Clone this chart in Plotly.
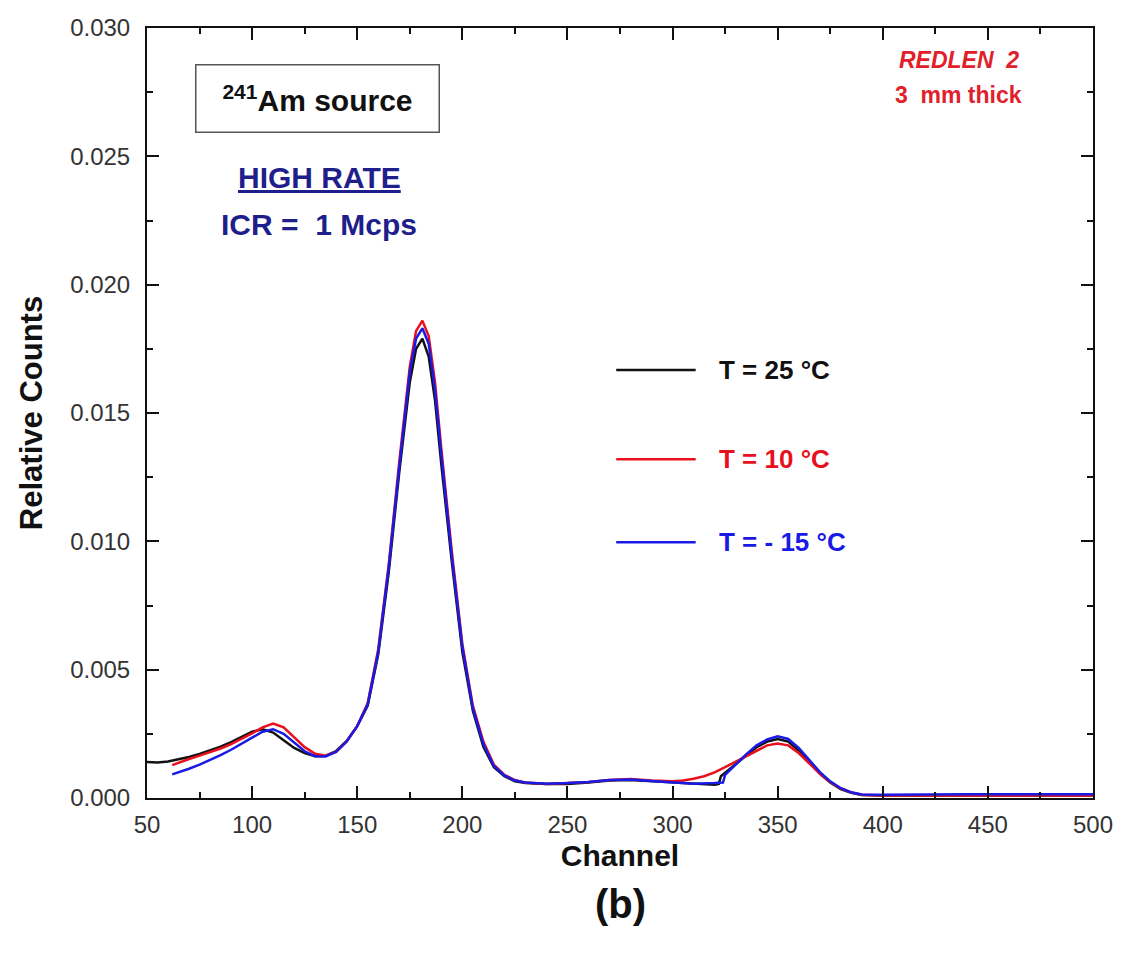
import plotly.graph_objects as go

# ---------------- data ----------------
ch_25 = [50, 55, 60, 65, 70, 75, 80, 85, 90, 95, 100, 105, 110, 115, 120, 125, 130, 135, 140, 145,
         150, 155, 160, 165, 170, 175, 178, 181, 184, 187, 190, 195, 200, 205, 210, 215, 220, 225, 230,
         240, 250, 260, 270, 280, 290, 300, 310, 315, 320, 322, 323, 325, 330, 335, 340, 345, 350, 355,
         360, 365, 370, 375, 380, 385, 390, 400, 420, 440, 460, 480, 500]
counts_25 = [0.00140, 0.00138, 0.00142, 0.00150, 0.00160, 0.00172, 0.00185, 0.00200, 0.00218, 0.00238,
             0.00258, 0.00268, 0.00255, 0.00225, 0.00195, 0.00175, 0.00163, 0.00165, 0.00183, 0.00222,
             0.00280, 0.00360, 0.00560, 0.00880, 0.01270, 0.01620, 0.01750, 0.01790, 0.01720, 0.01550,
             0.01300, 0.00920, 0.00570, 0.00340, 0.00200, 0.00120, 0.00085, 0.00065, 0.00058,
             0.00055, 0.00055, 0.00060, 0.00068, 0.00070, 0.00065, 0.00060, 0.00055, 0.00052, 0.00052,
             0.00055, 0.00085, 0.00098, 0.00130, 0.00165, 0.00198, 0.00220, 0.00230, 0.00220,
             0.00185, 0.00140, 0.00095, 0.00060, 0.00035, 0.00020, 0.00012, 0.00010, 0.00010, 0.00010,
             0.00010, 0.00010, 0.00010]

ch_10 = [62, 65, 70, 75, 80, 85, 90, 95, 100, 105, 110, 115, 120, 125, 130, 135, 140, 145,
         150, 155, 160, 165, 170, 175, 178, 181, 184, 187, 190, 195, 200, 205, 210, 215, 220, 225, 230,
         240, 250, 260, 270, 280, 290, 300, 305, 310, 315, 320, 325, 330, 335, 340, 345, 350, 355,
         360, 365, 370, 375, 380, 385, 390, 400, 420, 440, 460, 480, 500]
counts_10 = [0.00128, 0.00138, 0.00152, 0.00165, 0.00178, 0.00193, 0.00210, 0.00230, 0.00252, 0.00275,
             0.00290, 0.00275, 0.00238, 0.00198, 0.00172, 0.00165, 0.00180, 0.00220,
             0.00280, 0.00370, 0.00580, 0.00910, 0.01310, 0.01680, 0.01820, 0.01860, 0.01800, 0.01620,
             0.01360, 0.00960, 0.00600, 0.00360, 0.00220, 0.00130, 0.00090, 0.00070, 0.00060,
             0.00055, 0.00058, 0.00062, 0.00070, 0.00074, 0.00068, 0.00065, 0.00068, 0.00075, 0.00085,
             0.00100, 0.00120, 0.00142, 0.00163, 0.00185, 0.00205, 0.00212, 0.00205,
             0.00175, 0.00135, 0.00095, 0.00062, 0.00038, 0.00022, 0.00013, 0.00010, 0.00010, 0.00010,
             0.00010, 0.00010, 0.00010]

ch_m15 = [62, 65, 70, 75, 80, 85, 90, 95, 100, 105, 110, 115, 120, 125, 130, 135, 140, 145,
          150, 155, 160, 165, 170, 175, 178, 181, 184, 187, 190, 195, 200, 205, 210, 215, 220, 225, 230,
          240, 250, 260, 270, 280, 290, 300, 310, 320, 324, 325, 330, 335, 340, 345, 350, 355,
          360, 365, 370, 375, 380, 385, 390, 400, 420, 440, 460, 480, 500]
counts_m15 = [0.00092, 0.00100, 0.00114, 0.00130, 0.00148, 0.00167, 0.00188, 0.00210, 0.00235, 0.00258,
              0.00268, 0.00250, 0.00215, 0.00182, 0.00163, 0.00162, 0.00180, 0.00220,
              0.00280, 0.00365, 0.00570, 0.00900, 0.01290, 0.01660, 0.01790, 0.01830, 0.01770, 0.01590,
              0.01340, 0.00940, 0.00590, 0.00350, 0.00210, 0.00125, 0.00088, 0.00068, 0.00060,
              0.00056, 0.00058, 0.00062, 0.00070, 0.00072, 0.00066, 0.00060, 0.00056, 0.00058,
              0.00060, 0.00090, 0.00130, 0.00170, 0.00205, 0.00228, 0.00240, 0.00230,
              0.00195, 0.00148, 0.00102, 0.00065, 0.00038, 0.00022, 0.00014, 0.00013, 0.00015, 0.00015,
              0.00015, 0.00015, 0.00015]

series_names = ["T = 25 °C", "T = 10 °C", "T = - 15 °C"]
series_colors = ["#111111", "#e8101c", "#1a1ae6"]

FONT = "Liberation Sans, Arial, sans-serif"

fig = go.Figure()
for xs, ys, name, col in zip([ch_25, ch_10, ch_m15], [counts_25, counts_10, counts_m15],
                             series_names, series_colors):
    fig.add_trace(go.Scatter(x=xs, y=ys, mode="lines", name=name,
                             line=dict(color=col, width=2.5), showlegend=False))

# legend drawn manually (long line samples, coloured text, wide spacing)
leg_y = [0.556, 0.440, 0.332]
for name, col, yy in zip(series_names, series_colors, leg_y):
    fig.add_shape(type="line", xref="paper", yref="paper", x0=0.496, x1=0.580, y0=yy, y1=yy,
                  line=dict(color=col, width=2.5))
    fig.add_annotation(xref="paper", yref="paper", x=0.603, y=yy, text="<b>" + name + "</b>",
                       showarrow=False, xanchor="left", yanchor="middle",
                       font=dict(family=FONT, size=26, color=col))

# source box
fig.add_annotation(xref="paper", yref="paper", x=0.1805, y=0.909,
                   text="<b><sup>241</sup>Am source</b>", showarrow=False,
                   xanchor="center", yanchor="middle",
                   font=dict(family=FONT, size=30, color="#111111"),
                   bordercolor="#555555", borderwidth=1.5, borderpad=10, width=222, height=46)

fig.add_annotation(xref="paper", yref="paper", x=0.182, y=0.806,
                   text="<b><u>HIGH RATE</u></b>", showarrow=False,
                   xanchor="center", yanchor="middle",
                   font=dict(family=FONT, size=30, color="#1f1f8c"))
fig.add_annotation(xref="paper", yref="paper", x=0.182, y=0.745,
                   text="<b>ICR =  1 Mcps</b>", showarrow=False,
                   xanchor="center", yanchor="middle",
                   font=dict(family=FONT, size=30, color="#1f1f8c"))

fig.add_annotation(xref="paper", yref="paper", x=0.858, y=0.958,
                   text="<b><i>REDLEN  2</i></b>", showarrow=False,
                   xanchor="center", yanchor="middle",
                   font=dict(family=FONT, size=23, color="#e0202a"))
fig.add_annotation(xref="paper", yref="paper", x=0.858, y=0.913,
                   text="<b>3  mm thick</b>", showarrow=False,
                   xanchor="center", yanchor="middle",
                   font=dict(family=FONT, size=23, color="#e0202a"))

# panel label
fig.add_annotation(xref="paper", yref="paper", x=0.5, y=-0.138,
                   text="<b>(b)</b>", showarrow=False, xanchor="center", yanchor="middle",
                   font=dict(family=FONT, size=40, color="#111111"))

axis_common = dict(showline=True, linecolor="#111111", linewidth=2, mirror="allticks",
                   ticks="inside", tickcolor="#111111", tickwidth=2, ticklen=12,
                   showgrid=False, zeroline=False,
                   tickfont=dict(family=FONT, size=24, color="#333333"))

fig.update_xaxes(range=[50, 500], dtick=50, tick0=50, ticklabelstandoff=4,
                 minor=dict(dtick=25, ticks="inside", ticklen=6, tickwidth=2, tickcolor="#111111"),
                 title=dict(text="<b>Channel</b>", standoff=8,
                            font=dict(family=FONT, size=30, color="#111111")),
                 **axis_common)
fig.update_yaxes(range=[0, 0.030], dtick=0.005, tick0=0, tickformat=".3f", ticklabelstandoff=10,
                 minor=dict(dtick=0.0025, ticks="inside", ticklen=6, tickwidth=2, tickcolor="#111111"),
                 title=dict(text="<b>Relative Counts</b>", standoff=18,
                            font=dict(family=FONT, size=31, color="#111111")),
                 **axis_common)

fig.update_layout(width=1125, height=954, paper_bgcolor="white", plot_bgcolor="white",
                  margin=dict(l=147, r=30, t=28, b=156), showlegend=False)

fig.write_html("out.html")
